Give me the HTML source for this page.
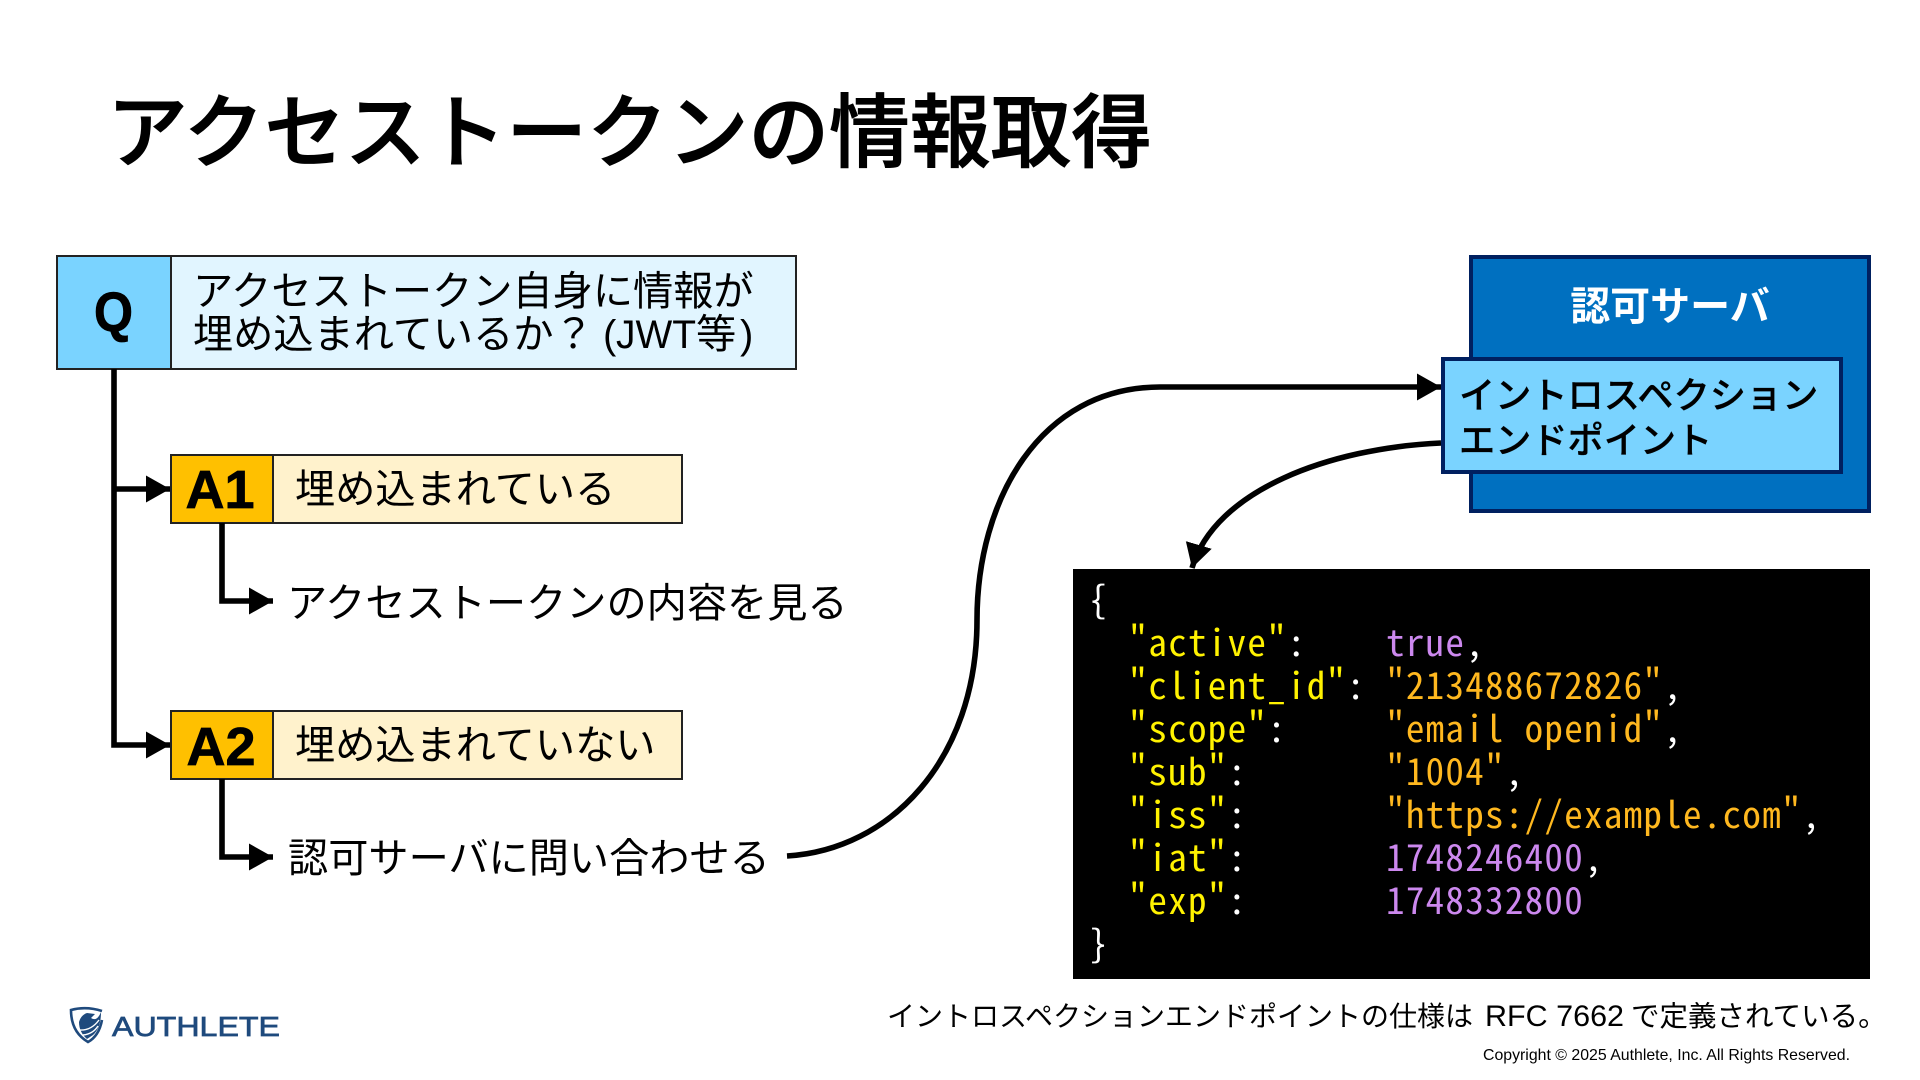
<!DOCTYPE html>
<html lang="ja"><head><meta charset="utf-8"><title>アクセストークンの情報取得</title>
<style>
html,body{margin:0;padding:0;background:#fff;width:1920px;height:1080px;overflow:hidden}
svg{display:block}
text{font-family:"Liberation Sans","Noto Sans CJK JP",sans-serif;fill:#000}
.j{font-size:40.2px}
.b{font-weight:700;stroke:#000;stroke-width:.8px}
.code{font-family:"Noto Sans Mono CJK JP","Liberation Mono",monospace;font-size:37px;letter-spacing:1.3px;white-space:pre;fill:#fff}
.k{fill:#FFF200}.s{fill:#FFB81F}.n{fill:#CC88EE}
</style></head><body>
<svg width="1920" height="1080" viewBox="0 0 1920 1080" xmlns="http://www.w3.org/2000/svg">
<defs>
<marker id="m" markerUnits="userSpaceOnUse" markerWidth="26" markerHeight="28" refX="24" refY="14" orient="auto"><path d="M0 0.5L24 14L0 27.5Z" fill="#000"/></marker>
</defs>
<text x="107" y="161" font-size="80.7" font-weight="500" style="stroke:#000;stroke-width:1px">アクセストークンの情報取得</text>

<g stroke="#222" stroke-width="2">
<rect x="57" y="256" width="114" height="113" fill="#7AD3FF"/>
<rect x="171" y="256" width="625" height="113" fill="#E1F5FF"/>
<rect x="171" y="455" width="102" height="68" fill="#FFC000"/>
<rect x="273" y="455" width="409" height="68" fill="#FFF2CC"/>
<rect x="171" y="711" width="102" height="68" fill="#FFC000"/>
<rect x="273" y="711" width="409" height="68" fill="#FFF2CC"/>
</g>
<text class="b" x="94" y="331" font-size="56" textLength="39" lengthAdjust="spacingAndGlyphs">Q</text>
<text class="j" x="193" y="305">アクセストークン自身に情報が</text>
<text class="j" x="193" y="348">埋め込まれているか？</text>
<text x="603" y="348" font-size="40">(</text>
<text x="616" y="348" font-size="40" textLength="80" lengthAdjust="spacingAndGlyphs">JWT</text>
<text class="j" x="696" y="348">等</text>
<text x="740" y="348" font-size="40">)</text>
<text class="b" x="220" y="508" font-size="54" text-anchor="middle">A1</text>
<text class="j" x="295" y="503">埋め込まれている</text>
<text class="b" x="221" y="765" font-size="54" text-anchor="middle">A2</text>
<text class="j" x="295" y="759">埋め込まれていない</text>
<text class="j" x="287" y="617">アクセストークンの内容を見る</text>
<text class="j" x="288" y="872">認可サーバに問い合わせる</text>

<g fill="none" stroke="#000" stroke-width="5.6">
<path d="M114 369V745H170" marker-end="url(#m)"/>
<path d="M114 489H170" marker-end="url(#m)"/>
<path d="M222 523V601H273" marker-end="url(#m)"/>
<path d="M222 779V857H273" marker-end="url(#m)"/>
<path d="M787 856C890 850 977 760 977 620C977 500 1040 387 1160 387H1441" marker-end="url(#m)"/>
<path d="M1441 443C1330 448 1215 490 1192 568" marker-end="url(#m)"/>
</g>

<rect x="1471" y="257" width="398" height="254" fill="#0070C0" stroke="#002060" stroke-width="4"/>
<text x="1670" y="320" font-size="40" font-weight="700" text-anchor="middle" style="fill:#fff">認可サーバ</text>
<rect x="1443" y="359" width="398" height="113" fill="#7AD3FF" stroke="#002060" stroke-width="4"/>
<text x="1459" y="408" font-size="36.2" font-weight="500" style="stroke:#000;stroke-width:.3px">イントロスペクション</text>
<text x="1459" y="453" font-size="36.2" font-weight="500" style="stroke:#000;stroke-width:.3px">エンドポイント</text>

<rect x="1073" y="569" width="797" height="410" fill="#000"/>
<text class="code" x="1089" y="613">{</text>
<text class="code" x="1089" y="656">  <tspan class="k">"active"</tspan>:    <tspan class="n">true</tspan>,</text>
<text class="code" x="1089" y="699">  <tspan class="k">"client_id"</tspan>: <tspan class="s">"213488672826"</tspan>,</text>
<text class="code" x="1089" y="742">  <tspan class="k">"scope"</tspan>:     <tspan class="s">"email openid"</tspan>,</text>
<text class="code" x="1089" y="785">  <tspan class="k">"sub"</tspan>:       <tspan class="s">"1004"</tspan>,</text>
<text class="code" x="1089" y="828">  <tspan class="k">"iss"</tspan>:       <tspan class="s">"https://example.com"</tspan>,</text>
<text class="code" x="1089" y="871">  <tspan class="k">"iat"</tspan>:       <tspan class="n">1748246400</tspan>,</text>
<text class="code" x="1089" y="914">  <tspan class="k">"exp"</tspan>:       <tspan class="n">1748332800</tspan></text>
<text class="code" x="1089" y="957">}</text>

<text x="887" y="1026" font-size="28">イントロスペクションエンドポイントの仕様は</text>
<text x="1485" y="1026" font-size="30" textLength="139" lengthAdjust="spacingAndGlyphs">RFC 7662</text>
<text x="1631" y="1026" font-size="28.5">で定義されている。</text>
<text x="1483" y="1060" font-size="16" textLength="367" lengthAdjust="spacingAndGlyphs">Copyright © 2025 Authlete, Inc. All Rights Reserved.</text>

<g transform="translate(1 0)">
<path d="M101 1011Q85 1006 70 1010Q70 1032 87 1042Q98 1036 101 1020" fill="none" stroke="#1F4A7D" stroke-width="2.6"/>
<path d="M78 1022Q80 1015 86 1013L94 1014L90 1018Q96 1022 100 1012Q100 1028 92 1035L86 1039Q78 1032 78 1022Z" fill="#1F4A7D"/>
<path d="M78 1030Q90 1031 98 1020M82 1035Q92 1034 97 1026" fill="none" stroke="#fff" stroke-width="1.4"/>
<text x="111" y="1036" font-size="28" textLength="168" lengthAdjust="spacingAndGlyphs" style="fill:#1F4A7D;stroke:#1F4A7D;stroke-width:.7px">AUTHLETE</text>
</g>
</svg>
</body></html>
